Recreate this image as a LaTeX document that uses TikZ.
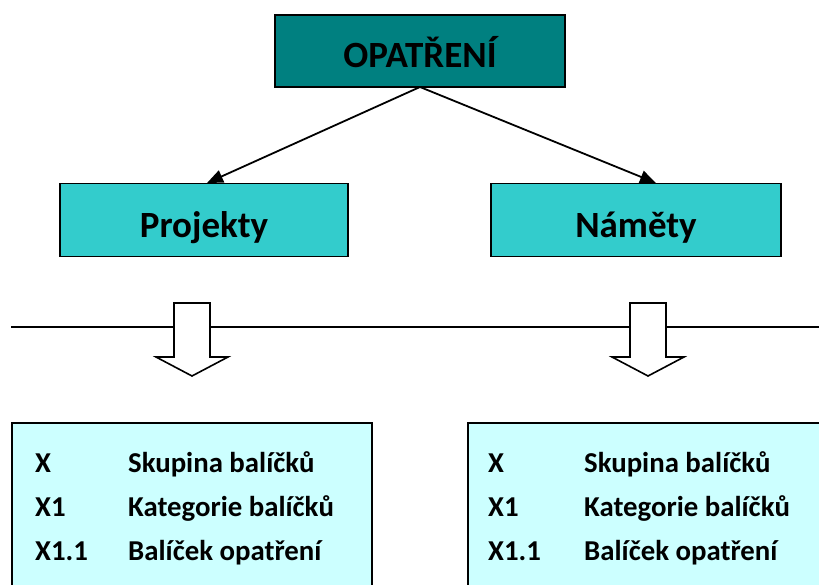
\documentclass[tikz,border=0pt]{standalone}
\usepackage{fontspec}
\setmainfont{Carlito}
\usetikzlibrary{arrows.meta}
\definecolor{tealdark}{HTML}{008080}
\definecolor{tealmid}{HTML}{33CCCC}
\definecolor{teallight}{HTML}{CCFFFF}
\tikzset{
  box/.style={draw=black, line width=1.8pt, rectangle, inner sep=0pt},
  boxlabel/.style={anchor=base, inner sep=0pt,
    font=\bfseries\fontsize{37}{40}\selectfont},
  link/.style={draw=black, line width=1.8pt,
    -{Triangle[length=16pt,width=13pt]}},
  blockarrow/.style={draw=black, fill=white, line width=1.6pt, line join=miter},
  listtext/.style={anchor=base west, inner sep=0pt,
    font=\bfseries\fontsize{28.8}{32}\selectfont},
}
\begin{document}
\begin{tikzpicture}[x=1pt,y=-1pt]
  \useasboundingbox (0,0) rectangle (819,585);
  \clip (0,0) rectangle (819,585);

  % top level
  \node[box, fill=tealdark, minimum width=290pt, minimum height=72pt] (top) at (420,51) {};
  \node[boxlabel] (toptext) at ([yshift=-17pt]top.center) {OPATŘENÍ};

  % second level
  \node[box, fill=tealmid, minimum width=288pt, minimum height=73pt] (proj) at (204,220) {};
  \node[boxlabel] (projtext) at ([yshift=-18pt]proj.center) {Projekty};
  \node[box, fill=tealmid, minimum width=290pt, minimum height=73pt] (nam) at (636,220) {};
  \node[boxlabel] (namtext) at ([yshift=-18pt]nam.center) {Náměty};

  \coordinate (apex) at (420,87);
  \coordinate (projin) at (207,183);
  \coordinate (namin) at (656,183);
  \draw[link] (apex) -- (projin);
  \draw[link] (apex) -- (namin);

  % separating line
  \coordinate (lineL) at (11,327);
  \coordinate (lineR) at (830,327);
  \draw[line width=1.6pt] (lineL) -- (lineR);

  % hollow block arrows
  \draw[blockarrow] (174,303) -- (210,303) -- (210,357) -- (228,357) -- (192,376)
    -- (156,357) -- (174,357) -- cycle;
  \draw[blockarrow] (630,303) -- (666,303) -- (666,357) -- (684,357) -- (648,376)
    -- (612,357) -- (630,357) -- cycle;

  % lower lists
  \draw[fill=teallight, line width=1.6pt] (12,600) -- (12,423) -- (372,423) -- (372,600);
  \draw[fill=teallight, line width=1.6pt] (468,600) -- (468,423) -- (840,423) -- (840,600);

  \node[listtext] (l1a) at (35,472) {X};
  \node[listtext] (l1b) at (128,472) {Skupina balíčků};
  \node[listtext] (l2a) at (35,516) {X1};
  \node[listtext] (l2b) at (128,516) {Kategorie balíčků};
  \node[listtext] (l3a) at (35,560) {X1.1};
  \node[listtext] (l3b) at (128,560) {Balíček opatření};

  \node[listtext] (r1a) at (488,472) {X};
  \node[listtext] (r1b) at (584,472) {Skupina balíčků};
  \node[listtext] (r2a) at (488,516) {X1};
  \node[listtext] (r2b) at (584,516) {Kategorie balíčků};
  \node[listtext] (r3a) at (488,560) {X1.1};
  \node[listtext] (r3b) at (584,560) {Balíček opatření};
\end{tikzpicture}
\end{document}
